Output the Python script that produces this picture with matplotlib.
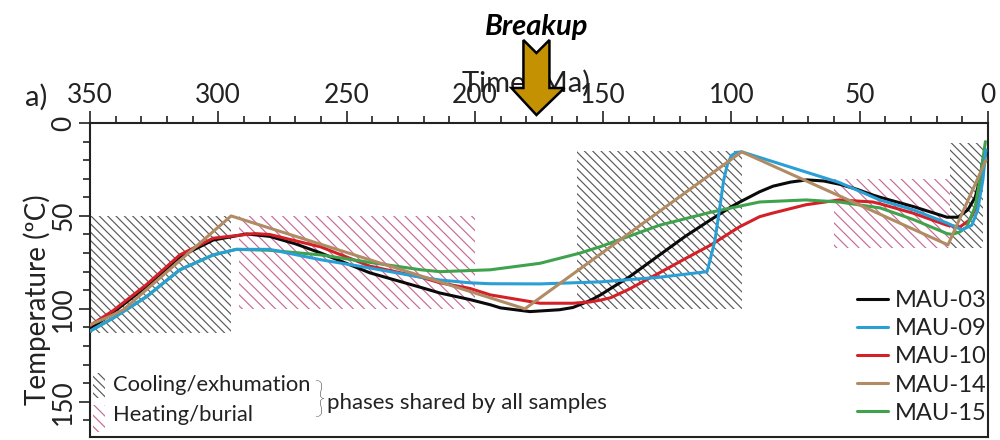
import matplotlib
matplotlib.use("Agg")
import matplotlib.pyplot as plt
from matplotlib.patches import Rectangle, Polygon
from matplotlib.ticker import MultipleLocator

plt.rcParams['font.family'] = ['Lato', 'DejaVu Sans']
plt.rcParams['hatch.linewidth'] = 0.85

# ---------------- data ----------------
series_names = ["MAU-03", "MAU-09", "MAU-10", "MAU-14", "MAU-15"]
series_colors = ["#0a0a0a", "#2a9fd6", "#d42027", "#b08b63", "#3fa34d"]

t03 = [350, 341, 328, 315, 302, 289, 280, 270, 260, 241, 221, 213.6, 202, 194, 190, 178.5,
       167, 161.8, 155, 151, 147, 140, 128, 118, 108, 100, 96.7, 89, 83.8, 77, 70.6, 64, 57.7,
       51, 45, 42, 29, 16, 11.7, 7.9, 5, 3.2, 2, 0.5]
T03 = [111, 102, 88, 72, 63, 59.7, 61, 65, 70, 80.6, 88.5, 91.5, 95, 97.8, 99.5, 101.5,
       100.5, 99.3, 95.5, 92.5, 89, 83, 71, 61, 52, 45, 42.5, 37, 34, 31.8, 30.6, 31.2, 33,
       35.7, 38.7, 40, 45, 50.7, 50.7, 46.8, 40, 30.6, 20, 16]

t09 = [350, 341, 328, 315, 302, 293, 280, 260, 241, 221, 213.6, 202, 194, 174.6, 151, 128,
       109.5, 108, 106.4, 104.5, 103, 101.5, 100, 98, 96, 58, 42, 29, 16, 10.2, 6.3, 4, 2, 0.8]
T09 = [112, 105, 93.5, 79, 71, 68, 68, 73.6, 78, 83, 84.5, 86, 86.5, 86.6, 85.5, 83,
       80, 72, 63, 45, 30.6, 22, 17.5, 15.8, 15.5, 32, 41.5, 46.8, 53.8, 57.5, 55, 46.8, 30.6, 14.5]

t10 = [350, 341, 328, 315, 302, 286, 280, 260, 241, 221, 213.6, 202, 194, 174.6, 161.8, 155,
       151, 147, 140, 128, 118, 108, 97, 89, 84, 71, 58, 45, 42, 29, 16, 11, 7, 4.5, 2.5, 1]
T10 = [109, 101, 87, 71, 62, 59.5, 60, 66.7, 77, 83, 86, 89, 92.5, 97, 97, 96.3,
       95.3, 94, 89.5, 80.6, 73, 65.6, 56, 50.4, 48.5, 44, 41.4, 42.5, 43.5, 48.6, 55, 56, 52,
       45, 30.6, 14.5]

t14 = [350, 343, 337, 295, 180.5, 96, 15.6, 0.8]
T14 = [108.6, 104.5, 100.5, 50, 100, 15.5, 65.6, 20]

t15 = [350, 341, 328, 315, 302, 293, 280, 260, 241, 221, 213.6, 194, 174.6, 159, 151, 147,
       128, 108, 89, 71, 58, 42, 29, 16, 14, 11, 8.3, 5, 3.2, 1]
T15 = [112, 105, 93.5, 79, 71, 68, 68.5, 71, 75, 79, 80, 79, 75.5, 70, 66.5, 64.5,
       55, 48, 42.5, 41.4, 42.5, 45.7, 52, 59.5, 60, 58.6, 56, 45, 30.6, 10]

# phase boxes: (time_old, time_young, temp_top, temp_bottom)
cooling_boxes = [(350, 295, 50, 113), (160, 96, 15, 100), (15, 2, 11, 67)]
heating_boxes = [(292, 200, 50, 100), (60, 15, 30, 67)]

breakup_age = 176

x_major = list(range(0, 351, 50))
y_major = [0, 50, 100, 150]

# ---------------- figure ----------------
fig = plt.figure(figsize=(10, 4.4), dpi=100)
ax = fig.add_axes([0.09, 0.0068, 0.898, 0.7136])

ax.set_xlim(350, 0)
ax.set_ylim(169, 0)

cool_col = "#5a5a5a"
heat_col = "#c66a96"
for (a, b, top, bot) in cooling_boxes:
    ax.add_patch(Rectangle((b, top), a - b, bot - top, facecolor='none',
                           edgecolor=cool_col, linewidth=0, hatch='\\\\\\\\', zorder=1))
for (a, b, top, bot) in heating_boxes:
    ax.add_patch(Rectangle((b, top), a - b, bot - top, facecolor='none',
                           edgecolor=heat_col, linewidth=0, hatch='\\\\\\', zorder=1))

data = {"MAU-03": (t03, T03), "MAU-09": (t09, T09), "MAU-10": (t10, T10),
        "MAU-14": (t14, T14), "MAU-15": (t15, T15)}
draw_order = ["MAU-03", "MAU-10", "MAU-15", "MAU-09", "MAU-14"]
handles = {}
for name in draw_order:
    c = series_colors[series_names.index(name)]
    t, T = data[name]
    ln, = ax.plot(t, T, color=c, lw=2.2, solid_joinstyle='round', solid_capstyle='round',
                  zorder=3, label=name)
    handles[name] = ln

leg = ax.legend([handles[n] for n in series_names], series_names, loc='center left',
                bbox_to_anchor=(0.854, 0.255), frameon=False, fontsize=17,
                handlelength=1.3, handletextpad=0.3, labelspacing=0.3,
                borderpad=0, borderaxespad=0)
for txt in leg.get_texts():
    txt.set_color('#222222')

# axes styling
for sp in ax.spines.values():
    sp.set_linewidth(1.5)
    sp.set_color('#222222')
ax.xaxis.tick_top()
ax.xaxis.set_label_position('top')
ax.set_xticks(x_major)
ax.xaxis.set_minor_locator(MultipleLocator(10))
ax.set_yticks(y_major)
ax.yaxis.set_minor_locator(MultipleLocator(10))
ax.tick_params(axis='x', which='major', length=9, width=1.2, labelsize=19, pad=2, colors='#222222')
ax.tick_params(axis='x', which='minor', length=5, width=1.2, colors='#222222')
ax.tick_params(axis='y', which='major', length=8, width=1.2, labelsize=19, pad=2,
               labelrotation=90, colors='#222222')
ax.tick_params(axis='y', which='minor', length=5, width=1.2, colors='#222222')
for lab in ax.get_yticklabels():
    lab.set_va('center')

ax.set_xlabel("Time (Ma)", fontsize=21, color='#222222')
ax.xaxis.set_label_coords(0.486, 1.1)
ax.set_ylabel("Temperature (ºC)", fontsize=20, color='#222222')
ax.yaxis.set_label_coords(-0.043, 0.436)

fig.text(0.025, 1 - 97 / 440, "a)", fontsize=21, va='center', ha='left', color='#222222')

# phase key (bottom left)
ax.add_patch(Rectangle((0.003, 0.124), 0.014, 0.08, transform=ax.transAxes, facecolor='none',
                       edgecolor=cool_col, linewidth=0, hatch='\\\\\\\\', zorder=2))
ax.add_patch(Rectangle((0.003, 0.016), 0.014, 0.086, transform=ax.transAxes, facecolor='none',
                       edgecolor=heat_col, linewidth=0, hatch='\\\\\\', zorder=2))
ax.text(0.0256, 0.166, "Cooling/exhumation", transform=ax.transAxes, fontsize=15.8,
        va='center', ha='left', color='#222222')
ax.text(0.0256, 0.07, "Heating/burial", transform=ax.transAxes, fontsize=15.8,
        va='center', ha='left', color='#222222')
ax.text(0.249, 0.115, "}", transform=ax.transAxes, fontsize=30, fontweight='light',
        va='center', ha='left', color='#222222')
ax.text(0.264, 0.108, "phases shared by all samples", transform=ax.transAxes, fontsize=16,
        va='center', ha='left', color='#222222')

# Breakup arrow (figure pixel geometry, centred on breakup age)
fig.canvas.draw()
cx_pix = ax.transData.transform((breakup_age, 0))[0]
W, H = 1000.0, 440.0
shape = [(-13, 40), (0, 53), (13, 40), (13, 88), (28, 88), (0, 115), (-25, 88), (-13, 88)]
verts = [((cx_pix + dx) / W, 1 - dy / H) for dx, dy in shape]
fig.patches.append(Polygon(verts, closed=True, transform=fig.transFigure, facecolor="#c49102",
                           edgecolor='black', linewidth=1.8, joinstyle='miter', zorder=10))
fig.text(cx_pix / W, 1 - 35 / H, "Breakup", fontsize=21, fontweight='bold', fontstyle='italic',
         ha='center', va='baseline', color='black')

fig.savefig("out.png", dpi=100)
